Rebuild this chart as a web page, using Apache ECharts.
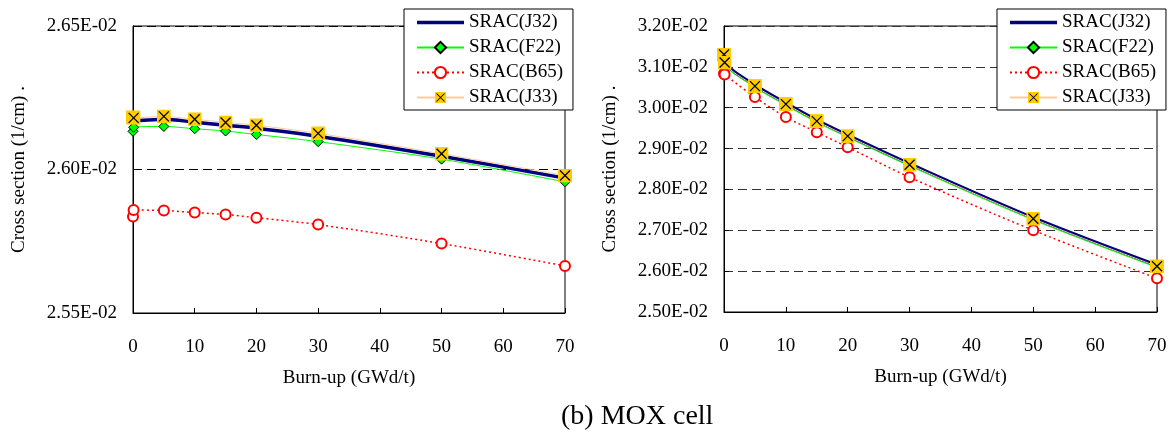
<!DOCTYPE html>
<html>
<head>
<meta charset="utf-8">
<title>MOX cell cross section</title>
<script src="https://cdn.jsdelivr.net/npm/echarts@6/dist/echarts.min.js"></script>
<style>
  html, body { margin: 0; padding: 0; background: #fff; }
  #chart { width: 1173px; height: 437px; }
</style>
</head>
<body>
<div id="chart"></div>
<script>
// burn-up points (GWd/t); the 0 step is given twice (fresh / equilibrium Xe)
const burnup = [0, 0.1, 5, 10, 15, 20, 30, 50, 70];

// left panel (1/cm)
const leftJ32 = [0.026172, 0.026170, 0.026175, 0.026165, 0.026154, 0.026144, 0.026116, 0.026046, 0.025970];
const leftF22 = [0.026133, 0.026147, 0.026150, 0.026142, 0.026134, 0.026122, 0.026097, 0.026036, 0.025957];
const leftB65 = [0.025836, 0.025859, 0.025857, 0.025850, 0.025843, 0.025832, 0.025808, 0.025742, 0.025664];
const leftJ33 = [0.026182, 0.026180, 0.026185, 0.026175, 0.026164, 0.026154, 0.026126, 0.026055, 0.025979];

// right panel (1/cm)
const rightJ32 = [0.031321, 0.031125, 0.030549, 0.030108, 0.029692, 0.029324, 0.028625, 0.027302, 0.026138];
const rightF22 = [0.031271, 0.031075, 0.030499, 0.030058, 0.029642, 0.029274, 0.028575, 0.027252, 0.026088];
const rightB65 = [0.030835, 0.030811, 0.030260, 0.029770, 0.029402, 0.029034, 0.028299, 0.027000, 0.025824];
const rightJ33 = [0.031301, 0.031105, 0.030529, 0.030088, 0.029672, 0.029304, 0.028605, 0.027282, 0.026118];

const names = ['SRAC(J32)', 'SRAC(F22)', 'SRAC(B65)', 'SRAC(J33)'];
const xTicks = { min: 0, max: 70, interval: 10 };
const leftY = { min: 0.0255, max: 0.0265, interval: 0.0005 };
const rightY = { min: 0.025, max: 0.032, interval: 0.001 };

const FONT = '"Liberation Serif", "Times New Roman", serif';

const boxX = 'image://data:image/svg+xml;charset=utf-8,' + encodeURIComponent(
  '<svg xmlns="http://www.w3.org/2000/svg" width="14" height="14" viewBox="0 0 14 14">' +
  '<rect width="14" height="14" fill="#FFCC00"/>' +
  '<path d="M2 2L12 12M12 2L2 12" stroke="#000" stroke-width="1.3" fill="none"/></svg>');

function sci(v) {
  const parts = v.toExponential(2).split('e');
  const n = parseInt(parts[1], 10);
  return parts[0] + 'E' + (n < 0 ? '-' : '+') + String(Math.abs(n)).padStart(2, '0');
}

function pairs(vals) {
  return burnup.map((x, i) => [x, vals[i]]);
}

function seriesFor(idx, j32, f22, b65, j33) {
  const common = { type: 'line', xAxisIndex: idx, yAxisIndex: idx, smooth: 0.3, animation: false };
  return [
    Object.assign({}, common, {
      name: names[0], data: pairs(j32), symbol: 'none',
      lineStyle: { color: '#000080', width: 3.5 }, itemStyle: { color: '#000080' }
    }),
    Object.assign({}, common, {
      name: names[1], data: pairs(f22), symbol: 'diamond', symbolSize: 10,
      lineStyle: { color: '#00FF00', width: 1 },
      itemStyle: { color: '#00FF00', borderColor: '#000', borderWidth: 1 }
    }),
    Object.assign({}, common, {
      name: names[2], data: pairs(b65), symbol: 'emptyCircle', symbolSize: 10,
      lineStyle: { color: '#FF0000', width: 1.5, type: [2, 3] },
      itemStyle: { color: '#FF0000', borderColor: '#FF0000', borderWidth: 1 }
    }),
    Object.assign({}, common, {
      name: names[3], data: pairs(j33), symbol: boxX, symbolSize: 14,
      lineStyle: { color: '#FFCC99', width: 1 }, itemStyle: { color: '#FFCC00' }
    })
  ];
}

function xAxisFor(idx) {
  return {
    type: 'value', gridIndex: idx, min: xTicks.min, max: xTicks.max, interval: xTicks.interval,
    name: 'Burn-up (GWd/t)', nameLocation: 'middle', nameGap: 56,
    nameTextStyle: { fontFamily: FONT, fontSize: 19, color: '#000' },
    axisLine: { lineStyle: { color: '#000', width: 1 } },
    axisTick: { inside: true, length: 5, lineStyle: { color: '#000' } },
    axisLabel: { fontFamily: FONT, fontSize: 19, color: '#000', margin: 25 },
    splitLine: { show: false }
  };
}

function yAxisFor(idx, rng, gridColor) {
  return {
    type: 'value', gridIndex: idx, min: rng.min, max: rng.max, interval: rng.interval,
    name: 'Cross section (1/cm) .', nameLocation: 'middle', nameGap: 104,
    nameTextStyle: { fontFamily: FONT, fontSize: 19, color: '#000' },
    axisLine: { show: true, lineStyle: { color: '#000', width: 1 } },
    axisTick: { show: true, inside: true, length: 5, lineStyle: { color: '#000' } },
    axisLabel: { fontFamily: FONT, fontSize: 19, color: '#000', margin: 16, formatter: sci },
    splitLine: { show: true, lineStyle: { color: gridColor, width: 1, type: [9, 5] } }
  };
}

function legendAt(left) {
  return {
    data: [
      // plain line for the series without markers
      { name: names[0], icon: 'path://M0 0H47V3.5H0Z', itemStyle: { color: '#000080', borderWidth: 0 } },
      names[1], names[2], names[3]
    ],
    orient: 'vertical', left: left, top: 9,
    itemWidth: 47, itemHeight: 14, itemGap: 6,
    padding: [4, 10, 3, 12],
    backgroundColor: '#fff', borderColor: '#000', borderWidth: 1, borderRadius: 0,
    textStyle: { fontFamily: FONT, fontSize: 19, color: '#000', lineHeight: 19 },
    selectedMode: false, z: 10
  };
}

const chart = echarts.init(document.getElementById('chart'), null, { renderer: 'canvas' });
chart.setOption({
  backgroundColor: '#fff',
  animation: false,
  title: {
    text: '(b) MOX cell', left: 556, top: 398,
    textStyle: { fontFamily: FONT, fontSize: 28, fontWeight: 'normal', color: '#000' }
  },
  legend: [legendAt(404), legendAt(997)],
  grid: [
    { left: 133, top: 26, width: 432, height: 287, show: true, borderColor: '#000', borderWidth: 1, backgroundColor: 'transparent' },
    { left: 724, top: 26, width: 433, height: 286, show: true, borderColor: '#000', borderWidth: 1, backgroundColor: 'transparent' }
  ],
  xAxis: [xAxisFor(0), xAxisFor(1)],
  yAxis: [yAxisFor(0, leftY, '#000'), yAxisFor(1, rightY, '#333')],
  series: seriesFor(0, leftJ32, leftF22, leftB65, leftJ33)
    .concat(seriesFor(1, rightJ32, rightF22, rightB65, rightJ33))
});
</script>
</body>
</html>
